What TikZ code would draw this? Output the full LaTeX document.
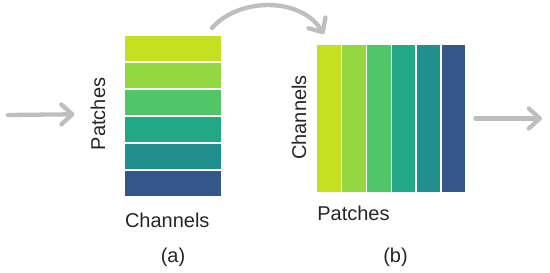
\documentclass[tikz,border=0pt]{standalone}
\usepackage{fontspec}
\setmainfont{Liberation Sans}
\usepackage{tikz}
\usetikzlibrary{arrows.meta,positioning}
\definecolor{vlime}{RGB}{197,224,32}
\definecolor{vgreen}{RGB}{147,215,65}
\definecolor{vmint}{RGB}{82,197,105}
\definecolor{vjade}{RGB}{34,168,132}
\definecolor{vteal}{RGB}{33,144,141}
\definecolor{vnavy}{RGB}{53,86,139}
\definecolor{arrowgray}{RGB}{190,190,190}

\begin{document}
\begin{tikzpicture}[x=1pt, y=-1pt,
    every node/.style={font=\fontsize{20}{24}\selectfont, text=black!85, inner sep=0pt},
    patchrow/.style={fill=#1, minimum width=96pt, minimum height=25.3pt},
    patchcol/.style={fill=#1, minimum width=23.4pt, minimum height=147pt},
    flowarrow/.style={draw=arrowgray, line width=4.3pt, line cap=round,
        -{Straight Barb[length=11pt, width=20pt, line cap=round, line join=round]}}]
    \useasboundingbox (0,0) rectangle (550,273);

    % (a) patches as rows
    \foreach \c [count=\i] in {vlime,vgreen,vmint,vjade,vteal,vnavy}
        \node[patchrow=\c] (a\i) at (173, 48.5+27*\i-27) {};
    \node[rotate=90] (patchesA) at (98,114) {Patches};
    \node[below=16pt of a6.south west, anchor=north west] (channelsA) {Channels};
    \node (capA) at (173,257.5) {(a)};

    % (b) patches as columns
    \foreach \c [count=\i] in {vlime,vgreen,vmint,vjade,vteal,vnavy}
        \node[patchcol=\c] (b\i) at (329+24.9*\i-24.9, 118.5) {};
    \node[rotate=90] (channelsB) at (299,117.5) {Channels};
    \node[below=14pt of b1.south west, anchor=north west] (patchesB) {Patches};
    \node (capB) at (395.5,257.5) {(b)};

    % arrows
    \coordinate (inStart) at (8,115);
    \coordinate (outEnd) at (542,118.5);
    \coordinate (turnStart) at (212,28);
    \coordinate (turnEnd) at (324,34);
    \draw[flowarrow, shorten >=16pt] (inStart) -- (patchesA);
    \draw[flowarrow, shorten <=10pt] (b6.east) -- (outEnd);
    \draw[flowarrow] (turnStart) .. controls (238,-2) and (300,-4) .. (turnEnd);
\end{tikzpicture}
\end{document}
